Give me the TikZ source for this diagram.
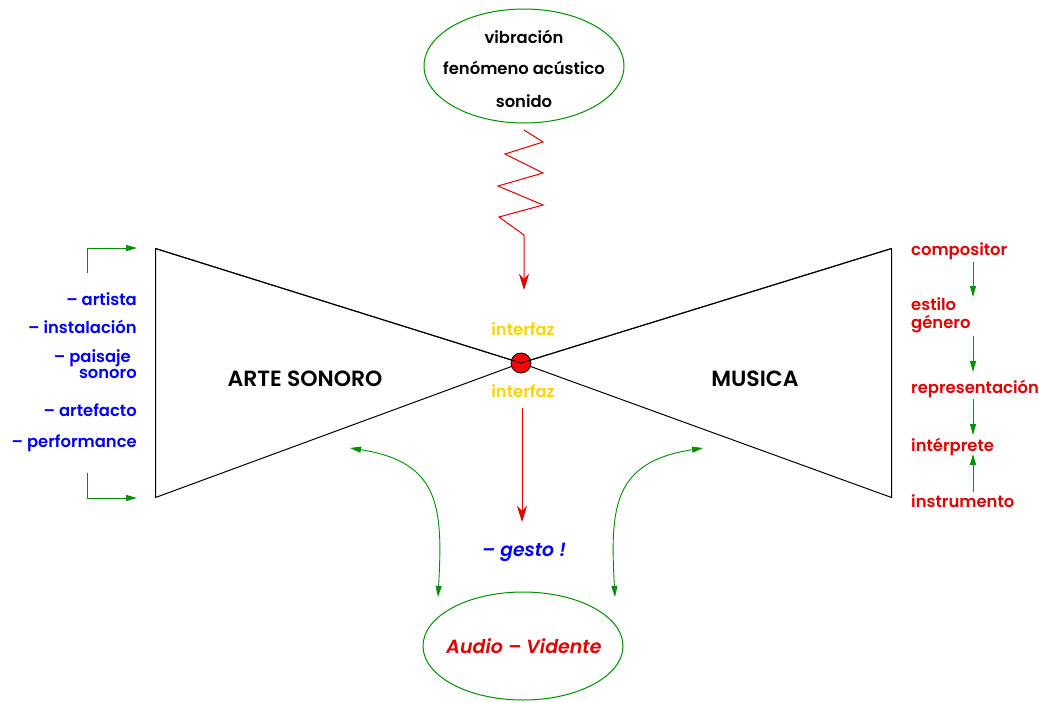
\documentclass[tikz,border=0pt]{standalone}
\usepackage{fontspec}
\setmainfont{Poppins}[BoldFont={Poppins SemiBold},BoldItalicFont={Poppins SemiBold Italic}]
\usetikzlibrary{arrows.meta}
\definecolor{fgreen}{RGB}{0,144,0}
\definecolor{fred}{RGB}{225,0,0}
\definecolor{fblue}{RGB}{0,0,255}
\definecolor{fgold}{RGB}{255,210,0}
\tikzset{
  lbl/.style={inner sep=0pt, font=\fontsize{16.4}{18}\selectfont\bfseries},
  big/.style={inner sep=0pt, font=\fontsize{22}{24}\selectfont\bfseries},
  bluelbl/.style={lbl, text=fblue, anchor=base east},
  redlbl/.style={lbl, text=fred, anchor=base west},
  blacklbl/.style={lbl, text=black, anchor=base},
  goldlbl/.style={lbl, text=fgold, anchor=base},
  oval/.style={draw=fgreen, line width=1pt},
  redarrow/.style={draw=fred, line width=1pt, -{Stealth[length=16pt,width=10pt,inset=5pt]}},
  greenarrow/.style={draw=fgreen, line width=1pt, -{Triangle[length=11pt,width=6pt]}},
  greenboth/.style={draw=fgreen, line width=0.9pt, {Triangle[length=11pt,width=6pt]}-{Triangle[length=11pt,width=6pt]}},
  bow/.style={draw=black, line width=1pt},
}
\begin{document}
\begin{tikzpicture}[x=1pt,y=-1pt]
\useasboundingbox (0,0) rectangle (1039,702);

% top ellipse
\draw[oval] (524,66) ellipse [x radius=100, y radius=57];
\node[blacklbl] (vib) at (524,43) {vibración};
\node[blacklbl] (fen) at (524,74) {fenómeno acústico};
\node[blacklbl] (son) at (524,107) {sonido};

% zigzag arrow
\coordinate (z0) at (524,130);
\coordinate (z1) at (524,290);
\draw[redarrow] (z0) -- (543,142) -- (505,154) -- (543,173) -- (498,186) -- (543,205) -- (499,217) -- (524,235) -- (z1);

% bow tie
\coordinate (c) at (521,363);
\draw[bow] (155.5,248.5) -- (155.5,497.5) -- (c) -- cycle;
\draw[bow] (891.5,248.5) -- (891.5,497.5) -- (c) -- cycle;
\node[circle, draw=black, fill=red, minimum size=20pt, inner sep=0pt, line width=0.8pt] (hub) at (c) {};
\draw[bow] (155.5,248.5) -- (c);
\draw[bow] (891.5,248.5) -- (c);

\node[goldlbl] (if1) at (523,335) {interfaz};
\node[goldlbl] (if2) at (523,397) {interfaz};

\node[big, anchor=base] (arte) at (305,386) {ARTE SONORO};
\node[big, anchor=base] (mus) at (755,386) {MUSICA};

% left brackets
\coordinate (lt0) at (87,273);
\coordinate (lt1) at (137,248);
\draw[greenarrow] (lt0) |- (lt1);
\coordinate (lb0) at (87,473);
\coordinate (lb1) at (137,498);
\draw[greenarrow] (lb0) |- (lb1);

% left labels
\node[bluelbl] (art) at (137,305) {-- artista};
\node[bluelbl] (ins) at (137,333) {-- instalación};
\node[bluelbl] (pai) at (131,362) {-- paisaje};
\node[bluelbl] (sno) at (137,378) {sonoro};
\node[bluelbl] (atf) at (137,416) {-- artefacto};
\node[bluelbl] (per) at (137,447) {-- performance};

% right labels
\node[redlbl] (comp) at (911,255) {compositor};
\node[redlbl] (est) at (911,310) {estilo};
\node[redlbl] (gen) at (911,328) {género};
\node[redlbl] (rep) at (911,393) {representación};
\node[redlbl] (intp) at (911,451) {intérprete};
\node[redlbl] (inst) at (911,507) {instrumento};

\coordinate (r1a) at (973,262); \coordinate (r1b) at (973,297);
\coordinate (r2a) at (973,336); \coordinate (r2b) at (973,372);
\coordinate (r3a) at (973,399); \coordinate (r3b) at (973,435);
\coordinate (r4a) at (973,492); \coordinate (r4b) at (973,454);
\draw[greenarrow] (r1a) -- (r1b);
\draw[greenarrow] (r2a) -- (r2b);
\draw[greenarrow] (r3a) -- (r3b);
\draw[greenarrow] (r4a) -- (r4b);

% central red arrow
\coordinate (g0) at (522,408);
\coordinate (g1) at (522,522);
\draw[redarrow] (g0) -- (g1);
\node[inner sep=0pt, text=fblue, anchor=base, font=\fontsize{18.8}{20}\selectfont\bfseries\itshape] (gesto) at (524,556) {-- gesto !};

% curved arrows
\coordinate (la) at (350,448);
\coordinate (lb) at (438,597);
\draw[greenboth] (la) .. controls (440,462) and (443,507) .. (lb);
\coordinate (ra) at (703,448);
\coordinate (rb) at (615,597);
\draw[greenboth] (ra) .. controls (613,462) and (610,507) .. (rb);

% bottom ellipse
\draw[oval] (523,646) ellipse [x radius=100, y radius=54];
\node[inner sep=0pt, text=fred, anchor=base, font=\fontsize{19}{21}\selectfont\bfseries\itshape] (av) at (524,653) {Audio -- Vidente};
\end{tikzpicture}
\end{document}
